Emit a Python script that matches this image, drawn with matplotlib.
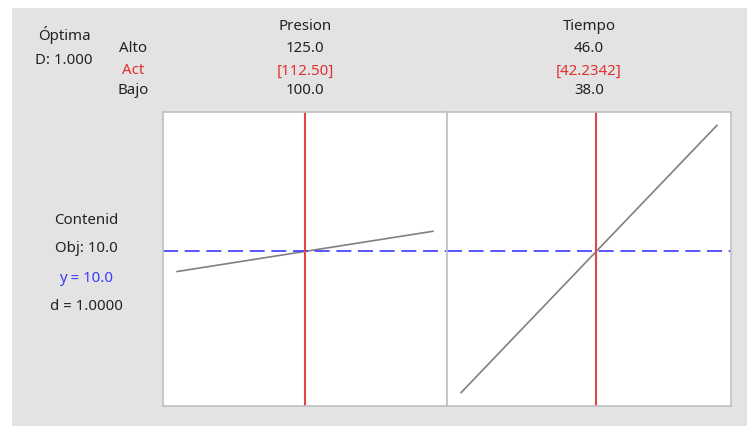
import matplotlib.pyplot as plt
from matplotlib.patches import Rectangle

plt.rcParams['font.family'] = ['Noto Sans', 'DejaVu Sans']

# factors: name, high, current (optimum), low
factores = ['Presion', 'Tiempo']
alto = [125.0, 46.0]
actual = [112.50, 42.2342]
bajo = [100.0, 38.0]
etiq_alto = ['125.0', '46.0']
etiq_act = ['[112.50]', '[42.2342]']
etiq_bajo = ['100.0', '38.0']

# predicted response along each factor (linear)
presion_x = [100.0, 125.0]
presion_y = [9.43, 10.57]
tiempo_x = [38.0, 46.0]
tiempo_y = [6.0, 13.57]
curvas_x = [presion_x, tiempo_x]
curvas_y = [presion_y, tiempo_y]

objetivo = 10.0

W, H = 747, 426
fs = 10.8
fig = plt.figure(figsize=(W / 100, H / 100), dpi=100)
fig.patch.set_facecolor('white')

# grey background
fig.patches.append(Rectangle((12 / W, 0), 1 - 12 / W, 1 - 8 / H,
                             transform=fig.transFigure, facecolor='#e3e3e3',
                             edgecolor='none', zorder=-10))

def fx(px):
    return px / W

def fy(py):
    return 1 - py / H

ymin = min(min(v) for v in curvas_y)
ymax = max(max(v) for v in curvas_y)
pad = (ymax - ymin) * 0.05

lefts = [163, 447]
pw = 284
top, bot = 112, 406
red = '#e04848'
blue = '#3a3aff'

for i in range(2):
    ax = fig.add_axes([fx(lefts[i]), fy(bot), pw / W, (bot - top) / H])
    ax.set_facecolor('white')
    xr = alto[i] - bajo[i]
    ax.set_xlim(bajo[i] - xr * 0.055, alto[i] + xr * 0.055)
    ax.set_ylim(ymin - pad, ymax + pad)
    ax.plot(curvas_x[i], curvas_y[i], color='#808080', lw=1.2)
    ax.axhline(objetivo, color=blue, lw=1.2, ls=(0, (9, 4)))
    ax.axvline(actual[i], color=red, lw=1.5)
    ax.set_xticks([])
    ax.set_yticks([])
    for s in ax.spines.values():
        s.set_color('#c0c0c0')
        s.set_linewidth(1.2)

    cx = fx(lefts[i] + pw / 2)
    fig.text(cx, fy(26), factores[i], ha='center', va='center', fontsize=fs, color='#222222')
    fig.text(cx, fy(49), etiq_alto[i], ha='center', va='center', fontsize=fs, color='#222222')
    fig.text(cx, fy(71), etiq_act[i], ha='center', va='center', fontsize=fs, color='#e03030')
    fig.text(cx, fy(91), etiq_bajo[i], ha='center', va='center', fontsize=fs, color='#222222')

fig.text(fx(64), fy(35), 'Óptima', ha='center', va='center', fontsize=fs, color='#222222')
fig.text(fx(64), fy(60), 'D: 1.000', ha='center', va='center', fontsize=fs, color='#222222')
fig.text(fx(133), fy(49), 'Alto', ha='center', va='center', fontsize=fs, color='#222222')
fig.text(fx(133), fy(71), 'Act', ha='center', va='center', fontsize=fs, color='#e03030')
fig.text(fx(133), fy(91), 'Bajo', ha='center', va='center', fontsize=fs, color='#222222')

fig.text(fx(86), fy(220), 'Contenid', ha='center', va='center', fontsize=fs, color='#222222')
fig.text(fx(86), fy(249), 'Obj: 10.0', ha='center', va='center', fontsize=fs, color='#222222')
fig.text(fx(86), fy(278), 'y = 10.0', ha='center', va='center', fontsize=fs, color=blue)
fig.text(fx(86), fy(307), 'd = 1.0000', ha='center', va='center', fontsize=fs, color='#222222')

fig.savefig('out.png', dpi=100, facecolor=fig.get_facecolor())
